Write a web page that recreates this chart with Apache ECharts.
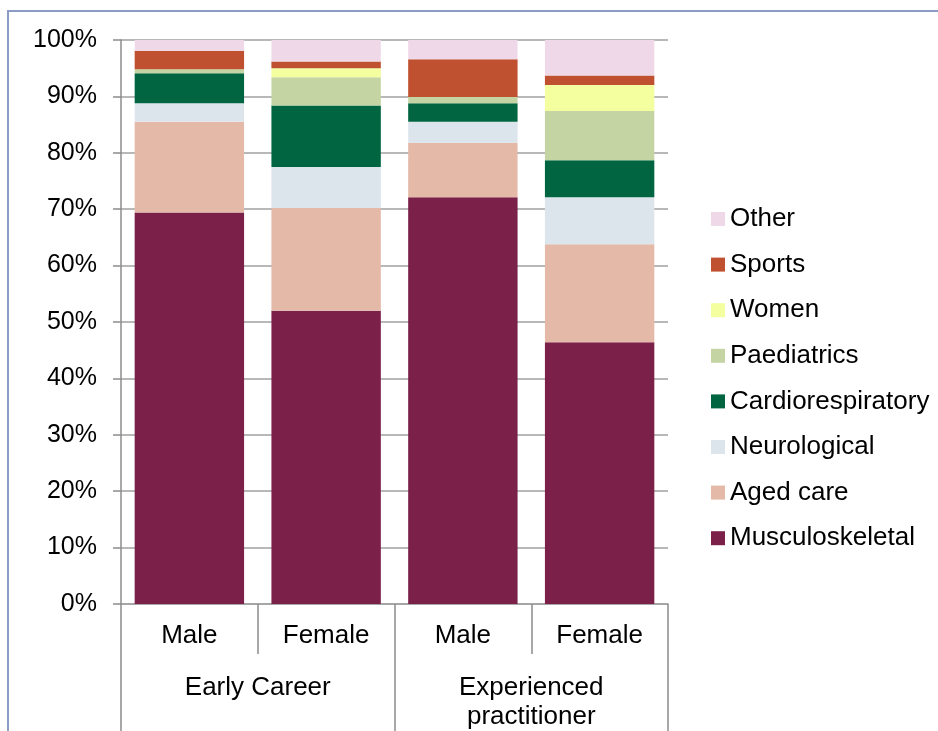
<!DOCTYPE html>
<html lang="en">

<head>
    <meta charset="UTF-8">
    <title>Area of practice</title>
    <script src="https://cdn.jsdelivr.net/npm/echarts@6/dist/echarts.min.js"></script>
    <style>
        body {
            margin: 0;
            background: #fff;
        }

        #frame {
            position: absolute;
            left: 7px;
            top: 10px;
            width: 960px;
            height: 760px;
            border: 2px solid #8c9cc4;
        }

        #mChart {
            position: absolute;
            left: 0;
            top: 0;
            width: 938px;
            height: 731px;
        }
    </style>
</head>

<body>
    <div id="frame"></div>
    <div id="mChart"></div>

    <script type="text/javascript">
        // groups and sub-categories
        const groups = ['Early Career', 'Experienced\npractitioner']
        const genders = ['Male', 'Female', 'Male', 'Female']

        // share of each area of practice, %
        const musculoskeletal = [69.4, 52.0, 72.1, 46.4]
        const agedCare = [16.1, 18.2, 9.7, 17.4]
        const neurological = [3.3, 7.3, 3.7, 8.3]
        const cardiorespiratory = [5.3, 10.9, 3.3, 6.6]
        const paediatrics = [0.7, 5.0, 1.1, 8.7]
        const women = [0, 1.6, 0, 4.6]
        const sports = [3.3, 1.2, 6.7, 1.7]
        const other = [1.9, 3.8, 3.4, 6.3]

        const font = 'Liberation Sans, Arial, sans-serif'

        const stack = [
            { name: 'Musculoskeletal', data: musculoskeletal, color: '#7b2049' },
            { name: 'Aged care', data: agedCare, color: '#e4b9a8' },
            { name: 'Neurological', data: neurological, color: '#dce4ec' },
            { name: 'Cardiorespiratory', data: cardiorespiratory, color: '#006540' },
            { name: 'Paediatrics', data: paediatrics, color: '#c4d5a3' },
            { name: 'Women', data: women, color: '#f4ffa0' },
            { name: 'Sports', data: sports, color: '#c05130' },
            { name: 'Other', data: other, color: '#efd9e9' }
        ]

        var mChart = echarts.init(document.getElementById('mChart'))

        mChart.setOption({
            animation: false,
            textStyle: { fontFamily: font },
            grid: { left: 121, right: 270, top: 40, bottom: 127 },
            legend: {
                orient: 'vertical',
                left: 711,
                top: 206,
                padding: 0,
                itemWidth: 14,
                itemHeight: 14,
                itemGap: 19.6,
                icon: 'rect',
                data: stack.map(s => s.name).reverse(),
                textStyle: { fontSize: 26, lineHeight: 26, color: '#000', fontFamily: font }
            },
            xAxis: [{
                type: 'category',
                data: genders,
                axisLine: { lineStyle: { color: '#a0a0a0', width: 1.5 } },
                axisTick: { show: true, interval: 0, length: 50, lineStyle: { color: '#8c8c8c', width: 1.5 } },
                axisLabel: { fontSize: 26, color: '#000', margin: 19, lineHeight: 26 }
            }, {
                type: 'category',
                data: groups,
                position: 'bottom',
                axisLine: { show: false },
                axisTick: { show: true, interval: 0, length: 130, lineStyle: { color: '#8c8c8c', width: 1.5 } },
                axisLabel: { fontSize: 26, color: '#000', margin: 69, lineHeight: 29 }
            }],
            yAxis: {
                type: 'value',
                min: 0,
                max: 100,
                interval: 10,
                axisLine: { show: true, lineStyle: { color: '#8c8c8c', width: 1.5 } },
                axisTick: { show: true, length: 8, lineStyle: { color: '#8c8c8c', width: 1.5 } },
                axisLabel: { formatter: '{value}%', fontSize: 25, color: '#000', margin: 24 },
                splitLine: { lineStyle: { color: '#a0a0a0', width: 1.5 } }
            },
            series: stack.map(s => ({
                name: s.name,
                type: 'bar',
                stack: 'total',
                xAxisIndex: 0,
                barCategoryGap: '20%',
                itemStyle: { color: s.color },
                data: s.data
            }))
        })
    </script>
</body>

</html>
